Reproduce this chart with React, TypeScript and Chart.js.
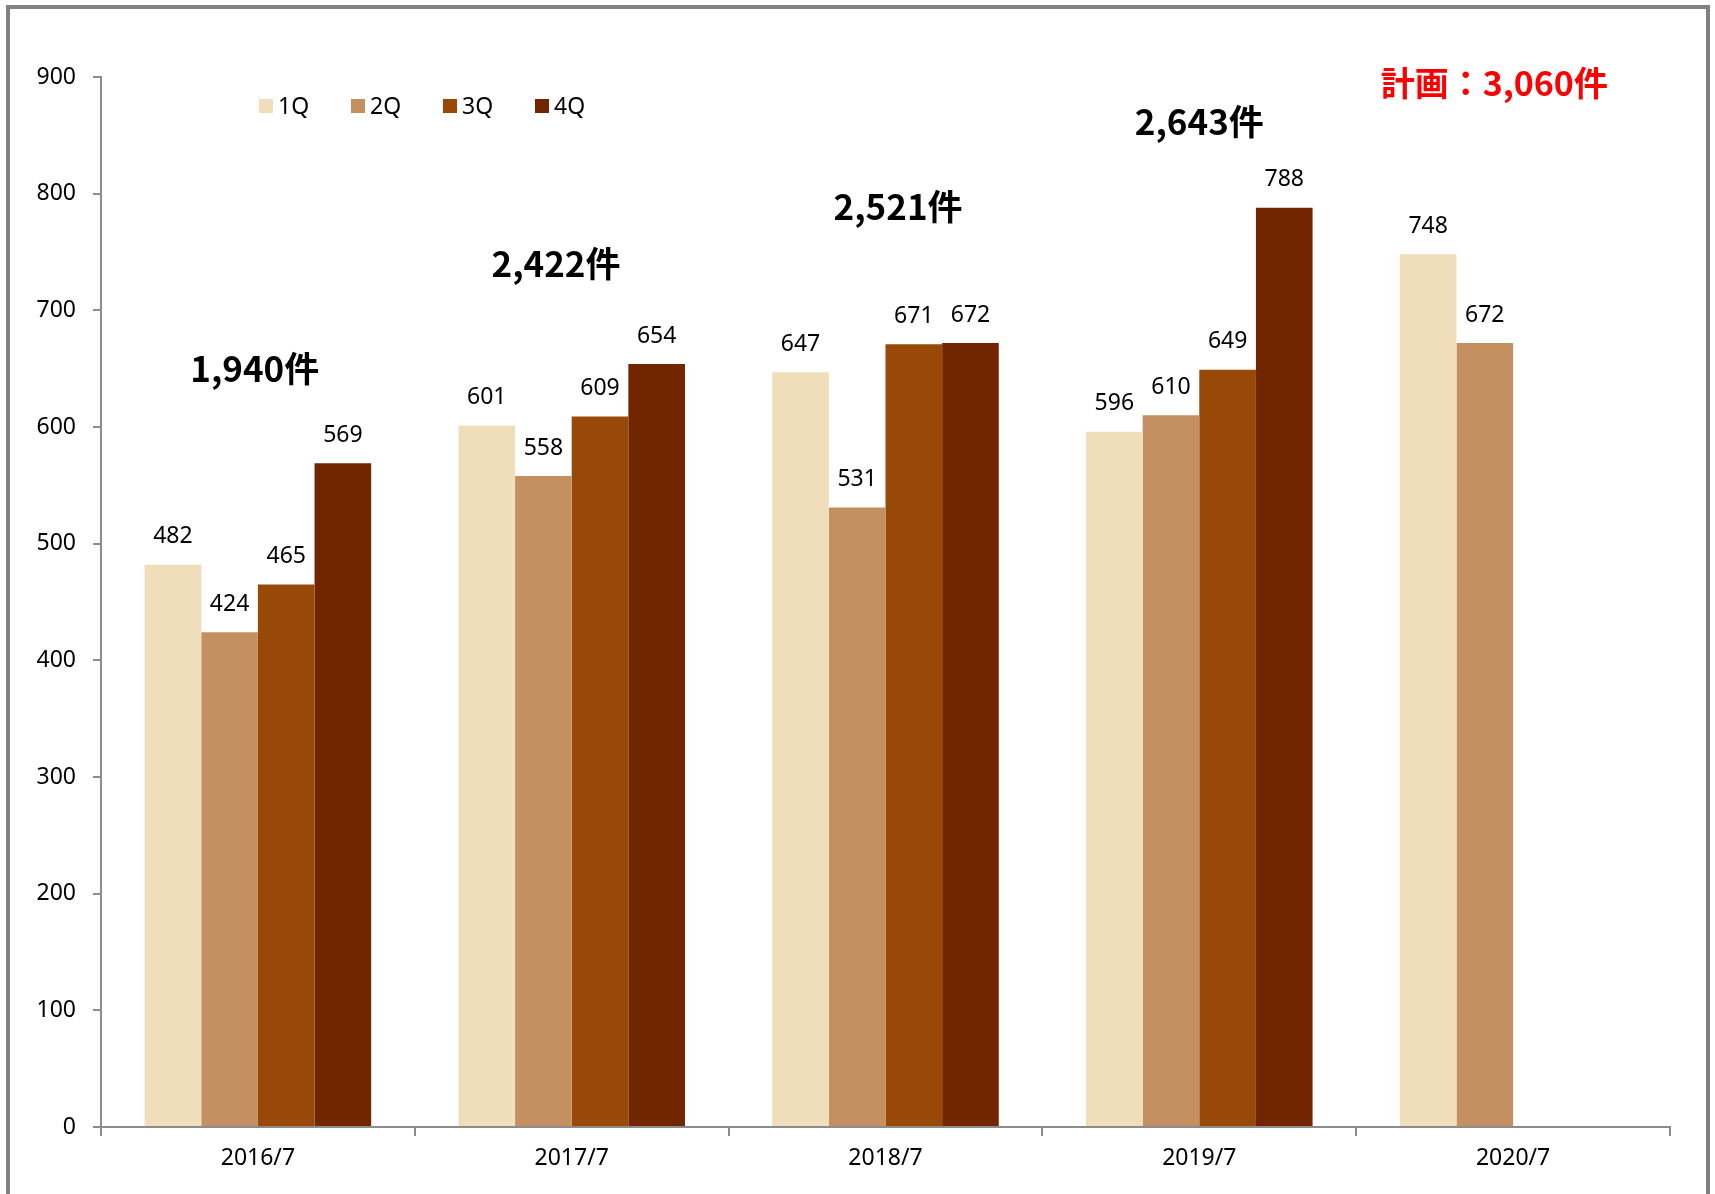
import React, { useEffect, useRef } from "react";
import { Chart, registerables } from "chart.js";

Chart.register(...registerables);

const categories = ["2016/7", "2017/7", "2018/7", "2019/7", "2020/7"];
const seriesNames = ["1Q", "2Q", "3Q", "4Q"];
const q1 = [482, 601, 647, 596, 748];
const q2 = [424, 558, 531, 610, 672];
const q3 = [465, 609, 671, 649, null];
const q4 = [569, 654, 672, 788, null];
const seriesColors = ["#F0DEBA", "#C49060", "#984807", "#722600"];

const totalLabels = ["1,940件", "2,422件", "2,521件", "2,643件"];
const totalPosX = [-0.01, 0.95, 2.04, 3.0];
const totalPosY = [650, 740, 789, 862];
const planLabel = "計画：3,060件";
const planPosX = 3.94;
const planPosY = 895;

const yTicks = [0, 100, 200, 300, 400, 500, 600, 700, 800, 900];

const W = 1715;
const H = 1194;

export default function App() {
  const ref = useRef<HTMLCanvasElement | null>(null);

  useEffect(() => {
    document.body.style.margin = "0";
    const canvas = ref.current;
    if (!canvas) return;

    const frame = {
      id: "frame",
      beforeDraw(chart: any) {
        const ctx = chart.ctx;
        ctx.save();
        ctx.fillStyle = "#ffffff";
        ctx.fillRect(0, 0, W, H);
        ctx.strokeStyle = "#808080";
        ctx.lineWidth = 4;
        ctx.strokeRect(8, 7, 1700, H + 20);
        ctx.restore();
      },
    };

    const labels = {
      id: "labels",
      afterDatasetsDraw(chart: any) {
        const ctx = chart.ctx;
        ctx.save();
        ctx.fillStyle = "#000000";
        ctx.font = '23px "Noto Sans"';
        ctx.textAlign = "center";
        ctx.textBaseline = "middle";
        chart.data.datasets.forEach((ds: any, di: number) => {
          const meta = chart.getDatasetMeta(di);
          meta.data.forEach((el: any, i: number) => {
            const v = ds.data[i];
            if (v === null || v === undefined) return;
            ctx.fillText(String(v), el.x, el.y - 28);
          });
        });

        const xs = chart.scales.x;
        const ys = chart.scales.y;
        ctx.font = 'bold 35px "Noto Sans CJK JP"';
        totalLabels.forEach((t, i) => {
          ctx.fillText(t, xs.getPixelForValue(totalPosX[i]), ys.getPixelForValue(totalPosY[i]));
        });
        ctx.fillStyle = "#FF0000";
        ctx.font = 'bold 34px "Noto Sans CJK JP"';
        ctx.fillText(planLabel, xs.getPixelForValue(planPosX), ys.getPixelForValue(planPosY));

        // legend
        ctx.font = '23px "Noto Sans"';
        ctx.textAlign = "left";
        const lx = 259;
        const ly = 106;
        seriesNames.forEach((n, i) => {
          const x = lx + i * 92;
          ctx.fillStyle = seriesColors[i];
          ctx.fillRect(x, ly - 7, 14, 14);
          ctx.fillStyle = "#000000";
          ctx.fillText(n, x + 19, ly + 1);
        });
        ctx.restore();
      },
    };

    const data = [q1, q2, q3, q4];
    const chart = new Chart(canvas, {
      type: "bar",
      data: {
        labels: categories,
        datasets: seriesNames.map((n, i) => ({
          label: n,
          data: data[i],
          backgroundColor: seriesColors[i],
          borderWidth: 0,
          categoryPercentage: 0.722,
          barPercentage: 1.0,
        })),
      },
      options: {
        responsive: false,
        animation: false,
        devicePixelRatio: 1,
        layout: { padding: { left: 0, top: 77, right: 45, bottom: 0 } },
        plugins: {
          legend: { display: false },
          tooltip: { enabled: false },
        },
        scales: {
          x: {
            grid: {
              display: true,
              drawOnChartArea: false,
              drawTicks: true,
              tickLength: 9,
              color: "#8C8C8C",
              lineWidth: 2,
              offset: true,
            },
            border: { display: true, color: "#8C8C8C", width: 2 },
            ticks: {
              color: "#000000",
              font: { family: "Noto Sans", size: 23 },
              padding: 9,
              maxRotation: 0,
            },
            afterFit: (s: any) => {
              s.height = 67;
            },
          },
          y: {
            min: 0,
            max: 900,
            afterBuildTicks: (s: any) => {
              s.ticks = yTicks.map((v) => ({ value: v }));
            },
            grid: {
              display: true,
              drawOnChartArea: false,
              drawTicks: true,
              tickLength: 8,
              color: "#8C8C8C",
              lineWidth: 2,
            },
            border: { display: true, color: "#8C8C8C", width: 2 },
            ticks: {
              color: "#000000",
              font: { family: "Noto Sans", size: 23 },
              padding: 17,
            },
            afterFit: (s: any) => {
              s.width = 101;
            },
          },
        },
      },
      plugins: [frame, labels],
    });

    return () => chart.destroy();
  }, []);

  return (
    <div style={{ width: W, height: H }}>
      <canvas ref={ref} width={W} height={H} style={{ display: "block", width: W, height: H }} />
    </div>
  );
}
